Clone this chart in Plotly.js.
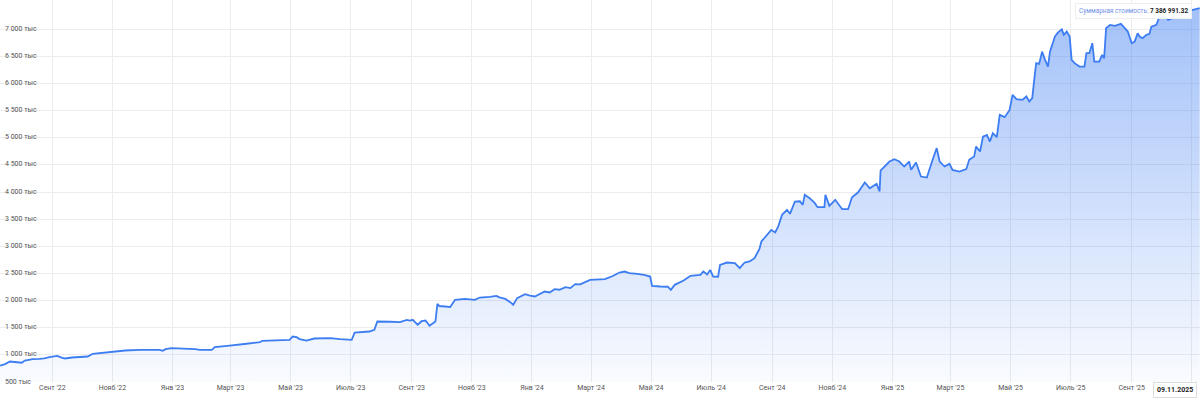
<!DOCTYPE html>
<html>
<head>
<meta charset="utf-8">
<script src="https://cdn.plot.ly/plotly-3.0.1.min.js"></script>
<style>
  html, body { margin: 0; padding: 0; background: #fff; }
  #chart { width: 1200px; height: 400px; }
</style>
</head>
<body>
<div id="chart"></div>
<script>
// ---- Data (portfolio total value, thousands RUB) ----
const dates = [
  '2022-07-10','2022-07-15','2022-07-20','2022-07-25','2022-07-30','2022-08-01','2022-08-04','2022-08-12','2022-08-19','2022-08-24',
  '2022-08-29','2022-09-06','2022-09-11','2022-09-14','2022-09-21','2022-09-29','2022-10-07','2022-10-12','2022-10-19','2022-10-29',
  '2022-11-07','2022-11-14','2022-11-29','2022-12-14','2022-12-19','2022-12-22','2022-12-25','2022-12-31','2023-01-09','2023-01-14',
  '2023-01-19','2023-01-24','2023-01-29','2023-02-10','2023-02-13','2023-02-18','2023-02-28','2023-03-15','2023-03-31','2023-04-02',
  '2023-04-15','2023-04-30','2023-05-03','2023-05-07','2023-05-10','2023-05-17','2023-05-25','2023-06-10','2023-06-20','2023-07-02',
  '2023-07-05','2023-07-12','2023-07-20','2023-07-25','2023-07-28','2023-08-10','2023-08-20','2023-08-27','2023-08-30','2023-09-02',
  '2023-09-07','2023-09-11','2023-09-15','2023-09-19','2023-09-23','2023-09-25','2023-09-27','2023-09-29','2023-10-05','2023-10-10',
  '2023-10-15','2023-10-25','2023-11-04','2023-11-09','2023-11-19','2023-11-26','2023-11-29','2023-12-05','2023-12-10','2023-12-13',
  '2023-12-17','2023-12-25','2023-12-30','2024-01-04','2024-01-14','2024-01-19','2024-01-24','2024-01-29','2024-02-04','2024-02-09',
  '2024-02-14','2024-02-19','2024-02-29','2024-03-10','2024-03-15','2024-03-22','2024-03-30','2024-04-04','2024-04-09','2024-04-17',
  '2024-04-24','2024-04-30','2024-05-02','2024-05-10','2024-05-18','2024-05-21','2024-05-25','2024-06-03','2024-06-10','2024-06-20',
  '2024-06-23','2024-06-27','2024-06-30','2024-07-03','2024-07-08','2024-07-10','2024-07-17','2024-07-25','2024-07-30','2024-08-04',
  '2024-08-09','2024-08-14','2024-08-19','2024-08-21','2024-08-27','2024-08-31','2024-09-04','2024-09-07','2024-09-11','2024-09-16',
  '2024-09-19','2024-09-24','2024-09-29','2024-10-02','2024-10-04','2024-10-09','2024-10-14','2024-10-17','2024-10-24','2024-10-25',
  '2024-10-29','2024-11-04','2024-11-11','2024-11-17','2024-11-21','2024-11-27','2024-12-04','2024-12-09','2024-12-16','2024-12-19',
  '2024-12-20','2024-12-29','2025-01-03','2025-01-08','2025-01-13','2025-01-18','2025-01-20','2025-01-25','2025-01-30','2025-02-05',
  '2025-02-11','2025-02-15','2025-02-18','2025-02-23','2025-02-28','2025-03-03','2025-03-10','2025-03-17','2025-03-20','2025-03-25',
  '2025-03-27','2025-03-31','2025-04-03','2025-04-07','2025-04-10','2025-04-13','2025-04-17','2025-04-20','2025-04-25','2025-04-30',
  '2025-05-03','2025-05-07','2025-05-13','2025-05-17','2025-05-20','2025-05-23','2025-05-25','2025-05-27','2025-05-30','2025-06-02',
  '2025-06-05','2025-06-08','2025-06-10','2025-06-15','2025-06-18','2025-06-22','2025-06-24','2025-06-27','2025-06-30','2025-07-02',
  '2025-07-05','2025-07-10','2025-07-15','2025-07-17','2025-07-20','2025-07-23','2025-07-25','2025-07-30','2025-08-02','2025-08-04',
  '2025-08-06','2025-08-10','2025-08-15','2025-08-21','2025-08-25','2025-08-28','2025-09-01','2025-09-04','2025-09-07','2025-09-09',
  '2025-09-12','2025-09-16','2025-09-19','2025-09-21','2025-09-26','2025-09-29','2025-10-05','2025-10-08','2025-10-12','2025-10-15',
  '2025-10-20','2025-10-25','2025-10-30','2025-11-04','2025-11-09'
];
const valuesThousands = [
  800,830,878,870,860,855,896,921,927,935,
  958,982,945,933,951,955,970,1019,1032,1061,
  1070,1080,1093,1095,1093,1075,1106,1124,1118,1111,
  1120,1105,1093,1093,1143,1150,1172,1200,1234,1258,
  1265,1277,1338,1326,1290,1264,1301,1307,1290,1277,
  1411,1420,1430,1461,1614,1610,1603,1645,1630,1645,
  1554,1620,1632,1535,1590,1614,1940,1900,1891,1880,
  2014,2032,2014,2056,2070,2087,2060,2030,1971,1922,
  2045,2119,2090,2075,2167,2150,2211,2200,2248,2229,
  2303,2300,2382,2385,2395,2443,2517,2535,2505,2493,
  2474,2443,2271,2259,2255,2198,2290,2370,2456,2474,
  2535,2480,2566,2443,2440,2658,2701,2690,2597,2701,
  2720,2782,2950,3088,3211,3303,3254,3364,3580,3672,
  3598,3825,3830,3764,3948,3886,3800,3721,3721,3948,
  3745,3856,3684,3684,3905,3990,4175,4070,4150,4009,
  4396,4562,4605,4562,4470,4562,4408,4544,4285,4266,
  4605,4808,4562,4470,4519,4408,4377,4421,4593,4653,
  4838,4746,5022,5053,4930,5084,5011,5421,5379,5513,
  5790,5711,5698,5760,5667,5729,6066,6374,6361,6587,
  6435,6311,6587,6864,6937,7000,6895,6956,6864,6435,
  6374,6311,6311,6558,6558,6742,6404,6404,6527,6466,
  7018,7079,7061,7098,7018,6956,6742,6772,6926,6864,
  6833,6895,6913,7048,7079,7221,7233,7171,7202,7294,
  7300,7310,7340,7370,7386.99132
];
const tickDates = [
  '2022-09-01','2022-11-01','2023-01-01','2023-03-01','2023-05-01','2023-07-01','2023-09-01','2023-11-01',
  '2024-01-01','2024-03-01','2024-05-01','2024-07-01','2024-09-01','2024-11-01','2025-01-01','2025-03-01',
  '2025-05-01','2025-07-01','2025-09-01','2025-11-01'
];
const tickLabels = [
  "Сент '22","Нояб '22","Янв '23","Март '23","Май '23","Июль '23","Сент '23","Нояб '23",
  "Янв '24","Март '24","Май '24","Июль '24","Сент '24","Нояб '24","Янв '25","Март '25",
  "Май '25","Июль '25","Сент '25",""
];
const yTickVals = [500,1000,1500,2000,2500,3000,3500,4000,4500,5000,5500,6000,6500,7000];
const yTickLabels = ['500 тыс','1 000 тыс','1 500 тыс','2 000 тыс','2 500 тыс','3 000 тыс','3 500 тыс',
  '4 000 тыс','4 500 тыс','5 000 тыс','5 500 тыс','6 000 тыс','6 500 тыс','7 000 тыс'];
const totalLabel = 'Суммарная стоимость:';
const totalValue = '7 386 991.32';
const currentDate = '09.11.2025';

const trace = {
  x: dates,
  y: valuesThousands,
  type: 'scatter',
  mode: 'lines',
  line: { color: '#3d7df2', width: 1.8 },
  fill: 'tozeroy',
  fillgradient: {
    type: 'vertical',
    start: 500,
    stop: 7400,
    colorscale: [[0, 'rgba(61,125,242,0.03)'], [1, 'rgba(61,125,242,0.48)']]
  },
  hoverinfo: 'skip'
};

const layout = {
  width: 1200, height: 400,
  margin: { l: 0, r: 0, t: 0, b: 18, pad: 0 },
  paper_bgcolor: '#ffffff',
  plot_bgcolor: '#ffffff',
  showlegend: false,
  font: { family: 'Roboto, "Noto Sans", sans-serif', size: 7, color: '#555' },
  xaxis: {
    type: 'date',
    range: ['2022-07-09 21:00', '2025-11-09 08:00'],
    tickmode: 'array',
    tickvals: tickDates,
    ticktext: tickLabels,
    showgrid: true, gridcolor: '#ececec', gridwidth: 1,
    zeroline: false, showline: false, ticks: '',
    tickfont: { size: 7, color: '#555' },
    fixedrange: true
  },
  yaxis: {
    range: [500, 7537.6],
    tickmode: 'array',
    tickvals: yTickVals,
    ticktext: yTickLabels,
    ticklabelposition: 'inside top',
    ticklabeloverflow: 'allow',
    ticklabelshift: 4,
    ticklabelstandoff: 2,
    showgrid: true, gridcolor: '#ececec', gridwidth: 1,
    zeroline: false, showline: false, ticks: '',
    tickfont: { size: 7, color: '#555' },
    fixedrange: true
  },
  annotations: [
    {
      xref: 'paper', yref: 'paper', x: 0.9933, y: 1, xanchor: 'right', yanchor: 'top', yshift: -3,
      text: '<span style="color:#6f8fe6">' + totalLabel + '</span> <b>' + totalValue + '</b>',
      showarrow: false, align: 'left',
      font: { size: 6.4, color: '#222', family: 'Roboto, sans-serif' },
      bgcolor: 'rgba(255,255,255,0.92)', bordercolor: '#eeeeee', borderwidth: 1, borderpad: 3
    },
    {
      xref: 'paper', yref: 'paper', x: 0.9975, y: 0, xanchor: 'right', yanchor: 'top', yshift: 0,
      text: '<b>' + currentDate + '</b>',
      showarrow: false,
      font: { size: 7, color: '#222', family: 'Roboto, sans-serif' },
      bgcolor: '#ffffff', bordercolor: '#dddddd', borderwidth: 1, borderpad: 3
    }
  ]
};

Plotly.newPlot('chart', [trace], layout, { displayModeBar: false, staticPlot: true });
</script>
</body>
</html>
